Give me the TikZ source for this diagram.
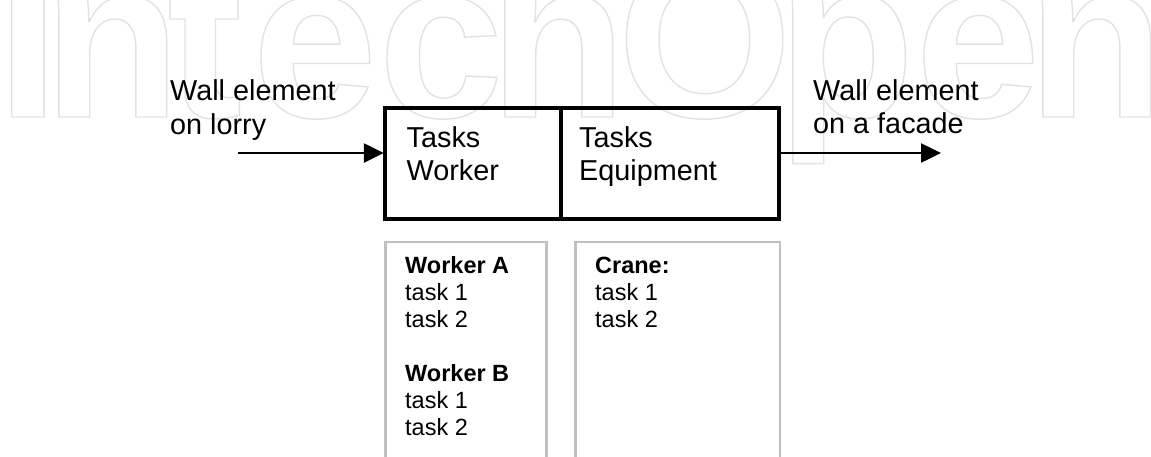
\documentclass[tikz,border=0pt]{standalone}
\usepackage{fontspec}
\setmainfont{Liberation Sans}
\newfontfamily\wmfont{Liberation Sans}
\newfontfamily\capfont{Liberation Serif}
\usetikzlibrary{arrows.meta}
\definecolor{wmgray}{RGB}{226,226,226}
\definecolor{boxgray}{RGB}{192,192,192}
\newcommand\outl[1]{\special{pdf:literal direct 1 Tr 1.4 w}#1\special{pdf:literal direct 0 Tr}}
\begin{document}
\begin{tikzpicture}[x=1pt,y=-1pt,
  lbl/.style={anchor=base west, inner sep=0pt, font=\fontsize{28.8}{33}\selectfont},
  sml/.style={anchor=base west, inner sep=0pt, font=\fontsize{23.5}{27}\selectfont},
  smb/.style={anchor=base west, inner sep=0pt, font=\fontsize{23.5}{27}\selectfont\bfseries},
  mainbox/.style={draw=black, line width=3.3pt, inner sep=0pt, outer sep=0pt, anchor=north west, minimum height=111pt},
  graynode/.style={draw=boxgray, line width=2.6pt, inner sep=0pt, outer sep=0pt, anchor=north west, minimum height=260pt},
  flow/.style={line width=2.5pt, -{Triangle[length=20pt,width=19pt]}},
  wm/.style={anchor=base west, inner sep=0pt, text=wmgray, font=\wmfont\bfseries\fontsize{225}{225}\selectfont},
  capf/.style={anchor=base west, inner sep=0pt, font=\capfont\fontsize{28}{32}\selectfont}]
\useasboundingbox (0,0) rectangle (1151,456);
\clip (0,0) rectangle (1151,456);
\fill[white] (0,0) rectangle (1151,456);
% watermark
\node[wm] (w1) at (-3.5,117) {\outl{I}};
\node[wm] (w2) at (43,117) {\outl{n}};
\node[wm] (w3) at (167,117) {\outl{t}};
\node[wm] (w4) at (252,117) {\outl{e}};
\node[wm] (w5) at (378,117) {\outl{c}};
\node[wm] (w6) at (489,117) {\outl{h}};
\node[wm] (w7) at (617,117) {\outl{O}};
\node[wm] (w8) at (777,117) {\outl{p}};
\node[wm] (w9) at (915,117) {\outl{e}};
\node[wm] (w10) at (1027,117) {\outl{n}};
% caption fragments cut at the top
\node[capf] (c1) at (448,-7) {(};
\node[capf] (c2) at (530,-7) {g};
\node[capf] (c3) at (690,-7) {)};
% labels
\node[lbl] (l1) at (170,100.7) {Wall element};
\node[lbl] (l2) at (170,134) {on lorry};
\node[lbl] (r1) at (813,100.7) {Wall element};
\node[lbl] (r2) at (813,133.5) {on a facade};
% main boxes
\node[mainbox, minimum width=176pt] (tw) at (385,108) {};
\node[mainbox, minimum width=218pt] (te) at (561,108) {};
\node[lbl] (t1) at (406.5,147) {Tasks};
\node[lbl] (t2) at (406.5,180) {Worker};
\node[lbl] (t3) at (579,147) {Tasks};
\node[lbl] (t4) at (579,180) {Equipment};
% arrows
\coordinate (lin) at (238,153);
\coordinate (rout) at (941,153);
\draw[flow] (lin) -- ([xshift=-1.2pt]lin -| tw.west);
\draw[flow] ([xshift=1.6pt]rout -| te.east) -- (rout);
% gray lists
\node[graynode, minimum width=161pt] (wb) at (385.5,242) {};
\node[graynode, minimum width=204.5pt] (eb) at (575.5,242) {};
\node[smb] (a0) at (405,273) {Worker A};
\node[sml] (a1) at (405,300) {task 1};
\node[sml] (a2) at (405,327) {task 2};
\node[smb] (b0) at (405,381.5) {Worker B};
\node[sml] (b1) at (405,408.5) {task 1};
\node[sml] (b2) at (405,435.5) {task 2};
\node[smb] (e0) at (595,273) {Crane:};
\node[sml] (e1) at (595,300) {task 1};
\node[sml] (e2) at (595,327) {task 2};
\end{tikzpicture}
\end{document}
